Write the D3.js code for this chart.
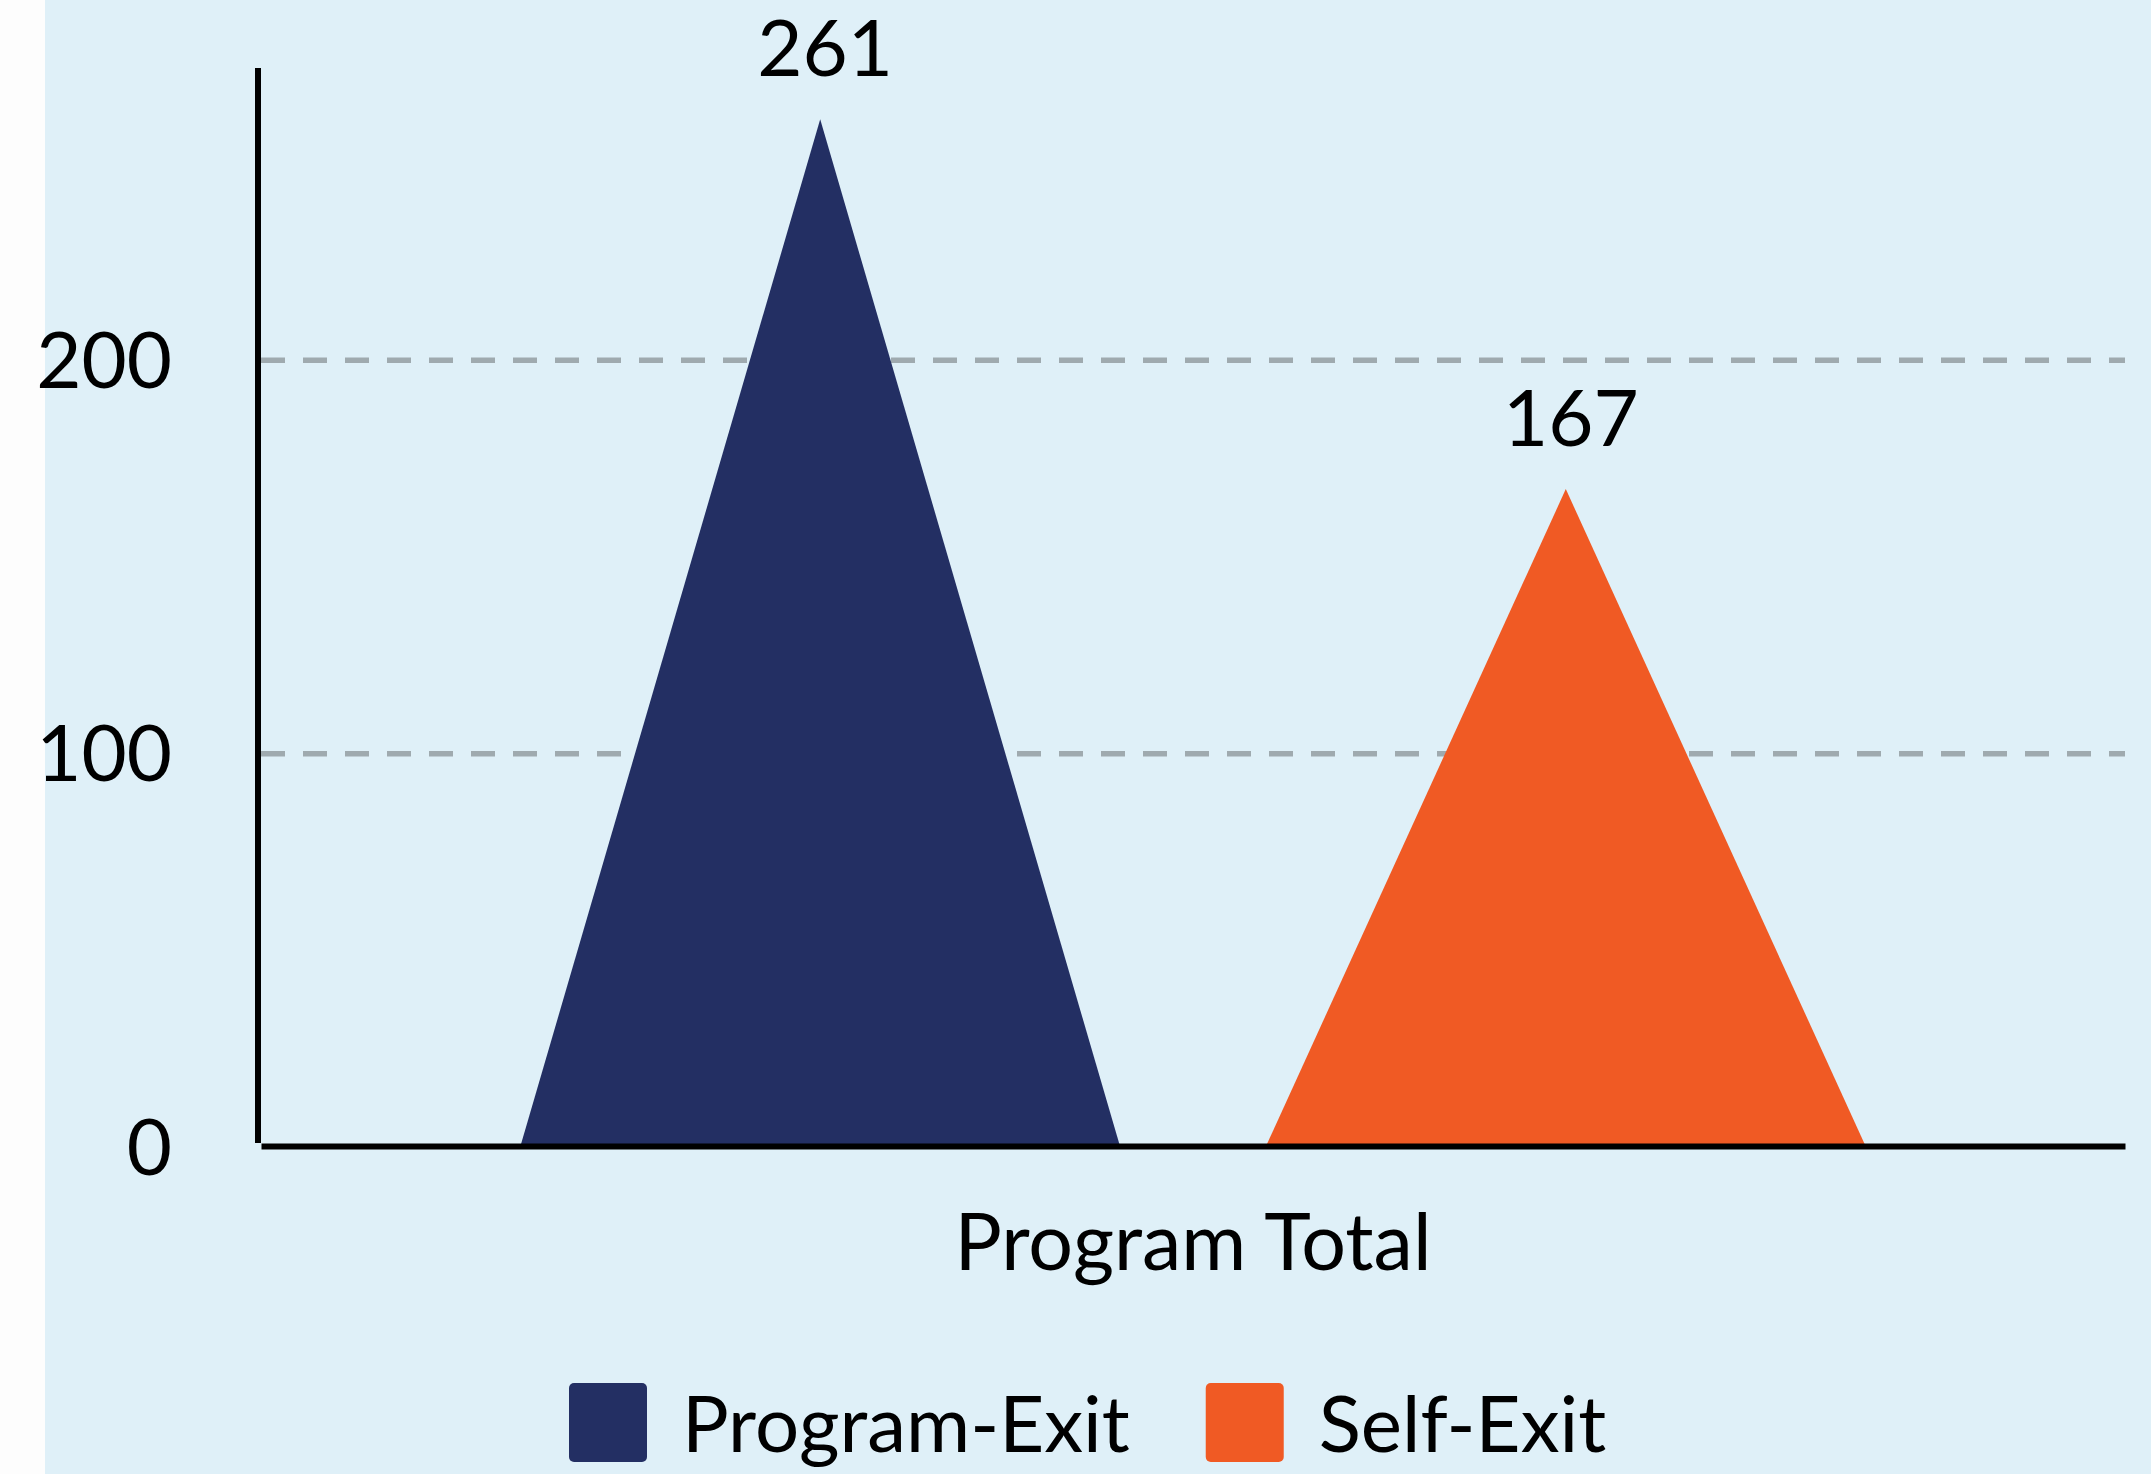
<!DOCTYPE html>
<html>
<head>
<meta charset="utf-8">
<script src="https://cdn.jsdelivr.net/npm/d3@7"></script>
<style>
  html, body { margin: 0; padding: 0; background: #FDFDFD; }
  svg { display: block; }
  text { font-family: Lato, "Noto Sans", sans-serif; fill: #000; }
</style>
</head>
<body>
<svg id="chart" width="2151" height="1474"></svg>
<script>
// ---- data ----
const categories = ["Program Total"];
const seriesNames = ["Program-Exit", "Self-Exit"];
const seriesValues = [261, 167];
const seriesColors = ["#232F63", "#F05A24"];
const yTickValues = [0, 100, 200];

// ---- layout ----
const W = 2151, H = 1474;
const svg = d3.select("#chart");
svg.append("rect").attr("x", 45).attr("y", 0).attr("width", W - 45).attr("height", H).attr("fill", "#DFF0F8");

const mLeft = 258, mRight = 2125, mTop = 68, mBottom = 1146;
const fontSize = 78;

const y = d3.scaleLinear().domain([0, d3.max(seriesValues) * 1.05]).range([mBottom, mTop]);
const x0 = d3.scaleBand().domain(categories).range([mLeft + 3, mRight]).padding(0);
const x1 = d3.scaleBand().domain(seriesNames).range([0, x0.bandwidth()]).paddingInner(0.196).paddingOuter(0.348);
const color = d3.scaleOrdinal().domain(seriesNames).range(seriesColors);

// gridlines
svg.append("g").selectAll("line").data(yTickValues.filter(d => d > 0)).join("line")
  .attr("x1", mLeft + 3).attr("x2", mRight)
  .attr("y1", d => y(d) + 1).attr("y2", d => y(d) + 1)
  .attr("stroke", "#9FAAAF").attr("stroke-width", 5.5).attr("stroke-dasharray", "24,18");

// triangles
const series = seriesNames.map((n, i) => ({ name: n, value: seriesValues[i] }));
const g = svg.append("g").attr("transform", `translate(${x0(categories[0])},0)`);
g.selectAll("path").data(series).join("path")
  .attr("d", d => {
    const xs = x1(d.name), bw = x1.bandwidth();
    return `M${xs},${y(0)}L${xs + bw / 2},${y(d.value)}L${xs + bw},${y(0)}Z`;
  })
  .attr("fill", d => color(d.name));

// value labels
g.selectAll("text.val").data(series).join("text")
  .attr("class", "val")
  .attr("x", d => x1(d.name) + x1.bandwidth() / 2 + 5)
  .attr("y", d => y(d.value) - 43)
  .attr("text-anchor", "middle")
  .attr("font-size", fontSize)
  .text(d => d.value);

// y axis
const yAxis = svg.append("g").attr("transform", `translate(${mLeft},0)`)
  .call(d3.axisLeft(y).tickValues(yTickValues).tickSize(0).tickSizeOuter(0).tickPadding(86).tickFormat(d3.format("d")));
yAxis.select(".domain").attr("stroke", "#000").attr("stroke-width", 6).attr("d", `M0,${mTop}V${mBottom - 3}`);
yAxis.selectAll("text").attr("font-size", fontSize).attr("font-family", "Lato").attr("fill", "#000").attr("dy", "0.36em");

// x axis
const xAxis = svg.append("g").attr("transform", `translate(0,${mBottom})`)
  .call(d3.axisBottom(x0).tickSize(0).tickSizeOuter(0).tickPadding(68));
xAxis.select(".domain").attr("stroke", "#000").attr("stroke-width", 6);
xAxis.selectAll("text").attr("font-size", fontSize + 1).attr("font-family", "Lato").attr("fill", "#000");

// legend
const legend = svg.append("g");
let lx = 569;
series.forEach((d, i) => {
  legend.append("rect").attr("x", lx).attr("y", 1383).attr("width", 78).attr("height", 79)
    .attr("rx", 5).attr("fill", color(d.name));
  const t = legend.append("text").attr("x", lx + 113).attr("y", 1452)
    .attr("font-size", fontSize).text(d.name);
  lx = lx + 113 + t.node().getComputedTextLength() + 76;
});
</script>
</body>
</html>
